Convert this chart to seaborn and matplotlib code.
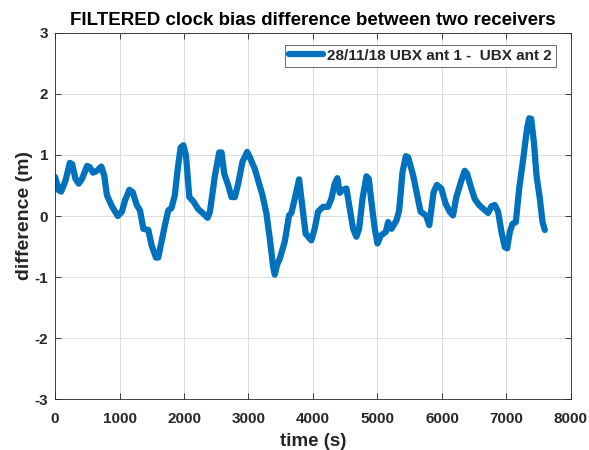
"""Recreate the filtered clock bias difference chart."""

import matplotlib
matplotlib.use("Agg")

import matplotlib.pyplot as plt
import pandas as pd
import seaborn as sns

_LINE = "#0072BD"
_AXIS = "#262626"
_GRID = "#dcdcdc"

time_s = [0, 60, 96, 163, 230, 266, 317, 368, 420, 497, 538, 590, 651, 718, 764, 805, 882, 974,
          1036, 1087, 1154, 1205, 1267, 1318, 1370, 1447, 1498, 1565, 1601, 1652, 1704, 1755,
          1806, 1858, 1900, 1948, 1990, 2031, 2082, 2144, 2222, 2299, 2366, 2402, 2479, 2546,
          2582, 2624, 2686, 2737, 2789, 2840, 2907, 2979, 3021, 3098, 3150, 3217, 3278, 3330,
          3382, 3407, 3443, 3485, 3562, 3629, 3665, 3717, 3784, 3834, 3886, 3974, 4026, 4078,
          4155, 4233, 4285, 4337, 4378, 4414, 4466, 4518, 4570, 4622, 4673, 4715, 4767, 4829,
          4865, 4906, 4958, 5000, 5052, 5129, 5165, 5217, 5295, 5336, 5388, 5440, 5476, 5554,
          5616, 5668, 5751, 5803, 5870, 5922, 5990, 6057, 6119, 6171, 6223, 6300, 6352, 6389,
          6456, 6508, 6575, 6637, 6715, 6767, 6818, 6870, 6922, 6974, 7010, 7052, 7093, 7145,
          7197, 7259, 7321, 7352, 7383, 7425, 7466, 7518, 7559, 7595]
difference_m = [0.64, 0.42, 0.40, 0.58, 0.87, 0.85, 0.61, 0.53, 0.61, 0.82, 0.80, 0.71, 0.74,
                0.81, 0.66, 0.34, 0.16, 0.0, 0.07, 0.26, 0.43, 0.39, 0.18, 0.09, -0.21, -0.23,
                -0.48, -0.68, -0.68, -0.42, -0.15, 0.09, 0.13, 0.34, 0.75, 1.12, 1.16, 0.99,
                0.31, 0.24, 0.11, 0.04, -0.03, 0.07, 0.66, 1.04, 1.04, 0.69, 0.50, 0.31, 0.31,
                0.53, 0.89, 1.05, 0.96, 0.77, 0.58, 0.34, 0.04, -0.37, -0.83, -0.96, -0.80,
                -0.70, -0.42, 0.01, 0.05, 0.28, 0.60, 0.17, -0.29, -0.40, -0.21, 0.07, 0.15,
                0.15, 0.28, 0.53, 0.62, 0.38, 0.43, 0.45, 0.12, -0.21, -0.34, -0.21, 0.28, 0.65,
                0.61, 0.23, -0.21, -0.45, -0.32, -0.26, -0.10, -0.21, -0.07, 0.09, 0.72, 0.98,
                0.96, 0.66, 0.34, 0.07, 0.01, -0.15, 0.39, 0.51, 0.45, 0.20, 0.07, 0.01, 0.31,
                0.58, 0.74, 0.69, 0.45, 0.28, 0.18, 0.12, 0.05, 0.16, 0.18, 0.07, -0.26, -0.51,
                -0.53, -0.26, -0.13, -0.10, 0.45, 0.93, 1.45, 1.60, 1.59, 1.21, 0.66, 0.28,
                -0.10, -0.23]
series_label = "28/11/18 UBX ant 1 -  UBX ant 2"
x_ticks = [0, 1000, 2000, 3000, 4000, 5000, 6000, 7000, 8000]
y_ticks = [-3, -2, -1, 0, 1, 2, 3]

sns.set_theme(style="white")
plt.rcParams["font.family"] = ["Liberation Sans", "DejaVu Sans"]
plt.rcParams["font.weight"] = "bold"
plt.rcParams["axes.unicode_minus"] = False

df = pd.DataFrame({"time": time_s, "diff": difference_m})

fig = plt.figure(figsize=(5.89, 4.5), dpi=100)
ax = fig.add_axes([0.0934, 0.113, 0.876, 0.814])

sns.lineplot(data=df, x="time", y="diff", ax=ax, color=_LINE, linewidth=4.5,
             sort=False, estimator=None, label=series_label)

ax.set_xlim(0, 8000)
ax.set_ylim(-3, 3)
ax.set_xticks(x_ticks)
ax.set_yticks(y_ticks)
ax.grid(True, color=_GRID, linewidth=0.7)
ax.set_axisbelow(True)
ax.tick_params(direction="in", length=4, width=0.6, colors=_AXIS, labelsize=11,
               top=True, right=True, bottom=True, left=True, pad=5)
ax.tick_params(axis="x", pad=9)
for label in ax.get_xticklabels() + ax.get_yticklabels():
    label.set_fontweight("bold")
for spine in ax.spines.values():
    spine.set_edgecolor(_AXIS)
    spine.set_linewidth(0.6)

ax.set_title("FILTERED clock bias difference between two receivers",
             fontsize=13.5, fontweight="bold", color="black", pad=6)
ax.set_xlabel("time (s)", fontsize=13.5, fontweight="bold", color=_AXIS, labelpad=5)
ax.set_ylabel("difference (m)", fontsize=14, fontweight="bold", color=_AXIS, labelpad=1)

leg = ax.legend(loc="upper right", fontsize=11, frameon=True, fancybox=False,
                handlelength=2.2, borderpad=0.25, handletextpad=0.3,
                borderaxespad=0, bbox_to_anchor=(0.971, 0.967))
leg.get_frame().set_edgecolor(_AXIS)
leg.get_frame().set_linewidth(0.6)
for text in leg.get_texts():
    text.set_fontweight("bold")

fig.savefig("out.png", dpi=100, facecolor="white")
plt.close(fig)
